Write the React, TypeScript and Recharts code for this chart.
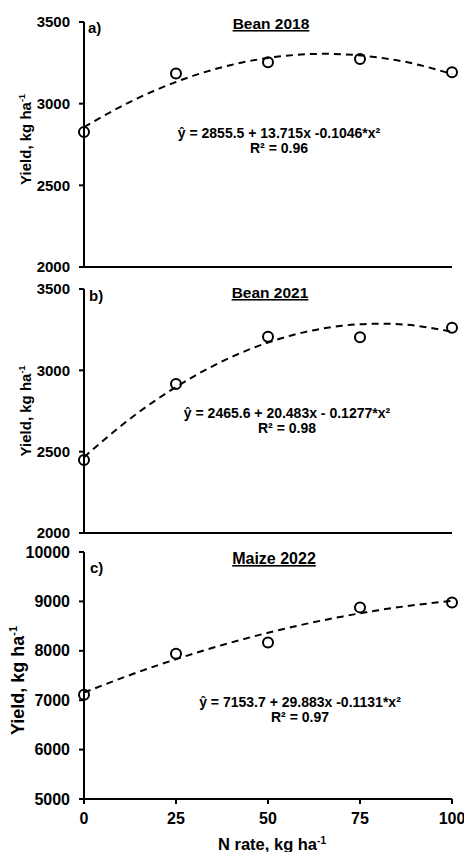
import React from 'react';
import { ComposedChart, Line, Scatter, XAxis, YAxis } from 'recharts';

// N rates (kg ha-1) at which yield was measured
const nRates = [0, 25, 50, 75, 100];

// observed yields, kg ha-1
const bean2018Yield = [2827, 3184, 3253, 3273, 3192];
const bean2021Yield = [2449, 2916, 3207, 3203, 3262];
const maize2022Yield = [7111, 7941, 8170, 8879, 8980];

// dashed quadratic trend
const trendRates = [0, 10, 20, 30, 40, 50, 60, 70, 80, 90, 100];
const bean2018Trend = [2856, 2982, 3088, 3173, 3237, 3280, 3302, 3303, 3283, 3243, 3181];
const bean2021Trend = [2466, 2658, 2824, 2965, 3081, 3171, 3235, 3274, 3287, 3275, 3237];
const maize2022Trend = [7154, 7441, 7706, 7948, 8168, 8365, 8540, 8691, 8821, 8927, 9011];

const beanTicks = [2000, 2500, 3000, 3500];
const maizeTicks = [5000, 6000, 7000, 8000, 9000, 10000];

const FONT = '"Liberation Sans", Arial, sans-serif';
const W = 464;

const toPoints = (xs: number[], ys: number[]) => xs.map((x, i) => ({ x, y: ys[i] }));

const Ring = (props: any) => {
  if (props.cx == null || props.cy == null) return null;
  return <circle cx={props.cx} cy={props.cy} r={5} fill="none" stroke="#000" strokeWidth={2} />;
};

const yTitle = (size: number, x: number, shift: number) => (props: any) => {
  const vb = props.viewBox || {};
  const cy = vb.y + vb.height / 2 + shift;
  return (
    <text
      x={x}
      y={cy}
      transform={`rotate(-90 ${x} ${cy})`}
      textAnchor="middle"
      fontSize={size}
      fontWeight={700}
      fontFamily={FONT}
      fill="#000"
    >
      Yield, kg ha<tspan dy={-size * 0.4} fontSize={size * 0.6}>-1</tspan>
    </text>
  );
};

const xTitle = (props: any) => {
  const vb = props.viewBox || {};
  return (
    <text x={272} y={vb.y + 51} textAnchor="middle" fontSize={16.5} fontWeight={700} fontFamily={FONT} fill="#000">
      N rate, kg ha<tspan dy={-6} fontSize={10}>-1</tspan>
    </text>
  );
};

interface PanelProps {
  top: number;
  height: number;
  marginTop: number;
  xAxisHeight: number;
  yields: number[];
  trend: number[];
  domain: [number, number];
  ticks: number[];
  tickSize: number;
  titleSize: number;
  titleShift: number;
  bottomAxis?: boolean;
}

const Panel: React.FC<PanelProps> = (p) => {
  const axisStroke = { stroke: '#000', strokeWidth: 2 };
  return (
    <div style={{ position: 'absolute', left: 0, top: p.top }}>
      <ComposedChart width={W} height={p.height} margin={{ top: p.marginTop, right: 12, left: 0, bottom: 0 }}>
        <XAxis
          type="number"
          dataKey="x"
          domain={[0, 100]}
          ticks={nRates}
          height={p.xAxisHeight}
          axisLine={axisStroke}
          tickLine={axisStroke}
          tickSize={5}
          tickMargin={9}
          tick={p.bottomAxis ? { fill: '#000', fontSize: 16, fontWeight: 700, fontFamily: FONT } : false}
          label={p.bottomAxis ? { content: xTitle } : undefined}
        />
        <YAxis
          type="number"
          dataKey="y"
          domain={p.domain}
          ticks={p.ticks}
          width={84}
          axisLine={axisStroke}
          tickLine={axisStroke}
          tickSize={5}
          tickMargin={9}
          interval={0}
          tick={{ fill: '#000', fontSize: p.tickSize, fontWeight: 700, fontFamily: FONT }}
          label={{ content: yTitle(p.titleSize, p.titleSize > 16 ? 24 : 31, p.titleShift) }}
        />
        <Line
          data={toPoints(trendRates, p.trend)}
          dataKey="y"
          type="natural"
          stroke="#000"
          strokeWidth={2}
          strokeDasharray="7 5"
          dot={false}
          activeDot={false}
          isAnimationActive={false}
        />
        <Scatter data={toPoints(nRates, p.yields)} dataKey="y" shape={Ring} isAnimationActive={false} />
      </ComposedChart>
    </div>
  );
};

const Note: React.FC<{ x: number; y: number; size: number; children: React.ReactNode; underline?: boolean; anchor?: string }> = ({
  x,
  y,
  size,
  children,
  underline,
  anchor = 'middle',
}) => (
  <text
    x={x}
    y={y}
    textAnchor={anchor as any}
    fontSize={size}
    fontWeight={700}
    fontFamily={FONT}
    fill="#000"
    textDecoration={underline ? 'underline' : undefined}
  >
    {children}
  </text>
);

export default function App() {
  return (
    <div style={{ position: 'absolute', left: 0, top: 0, width: W, height: 852, background: '#fff', fontFamily: FONT }}>
      <Panel
        top={0}
        height={275}
        marginTop={22}
        xAxisHeight={8}
        yields={bean2018Yield}
        trend={bean2018Trend}
        domain={[2000, 3500]}
        ticks={beanTicks}
        tickSize={15}
        titleSize={15}
        titleShift={-5}
      />
      <Panel
        top={275}
        height={266}
        marginTop={14}
        xAxisHeight={8}
        yields={bean2021Yield}
        trend={bean2021Trend}
        domain={[2000, 3500]}
        ticks={beanTicks}
        tickSize={15}
        titleSize={15}
        titleShift={0}
      />
      <Panel
        top={541}
        height={311}
        marginTop={11}
        xAxisHeight={53}
        yields={maize2022Yield}
        trend={maize2022Trend}
        domain={[5000, 10000]}
        ticks={maizeTicks}
        tickSize={16}
        titleSize={18}
        titleShift={5}
        bottomAxis
      />
      <svg width={W} height={852} style={{ position: 'absolute', left: 0, top: 0, pointerEvents: 'none' }}>
        <Note x={271} y={29} size={15.5} underline>Bean 2018</Note>
        <Note x={88} y={33} size={15} anchor="start">a)</Note>
        <Note x={279} y={138} size={14}>ŷ = 2855.5 + 13.715x -0.1046*x²</Note>
        <Note x={279} y={153} size={14}>R² = 0.96</Note>

        <Note x={270} y={298} size={15.5} underline>Bean 2021</Note>
        <Note x={89} y={301} size={15} anchor="start">b)</Note>
        <Note x={287} y={418} size={14}>ŷ = 2465.6 + 20.483x - 0.1277*x²</Note>
        <Note x={287} y={433} size={14}>R² = 0.98</Note>

        <Note x={274} y={564} size={16} underline>Maize 2022</Note>
        <Note x={90} y={573} size={15} anchor="start">c)</Note>
        <Note x={300} y={707} size={14}>ŷ = 7153.7 + 29.883x -0.1131*x²</Note>
        <Note x={300} y={722} size={14}>R² = 0.97</Note>
      </svg>
    </div>
  );
}
